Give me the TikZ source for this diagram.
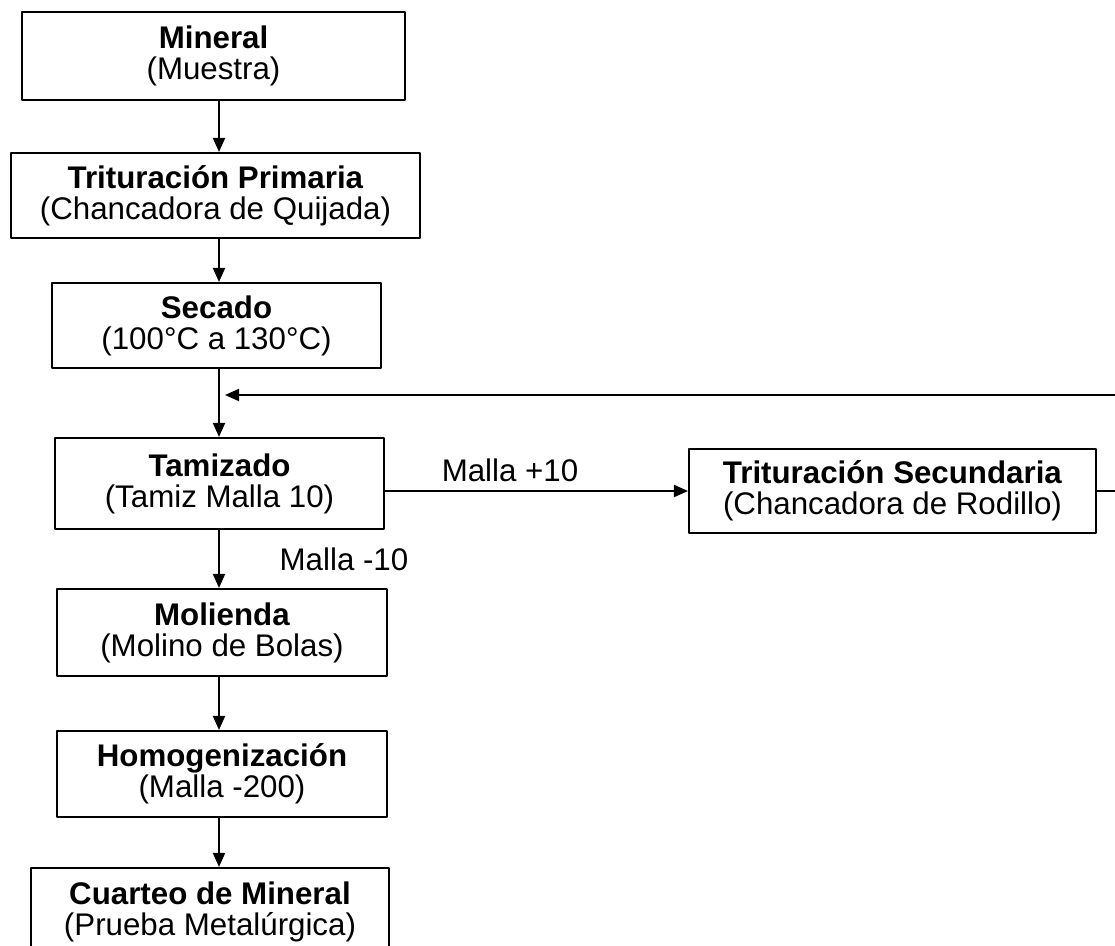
\documentclass[tikz,border=0pt]{standalone}
\usepackage{fontspec}
\setmainfont{Liberation Sans}
\usetikzlibrary{arrows.meta}

\begin{document}
\begin{tikzpicture}[x=0.02cm,y=-0.02cm,line join=round,
  caja/.style={draw,line width=1.2pt,align=center,inner sep=0pt,font=\fontsize{17.8}{17.6}\selectfont},
  flecha/.style={line width=1.1pt,-{Triangle[length=0.28cm,width=0.24cm]}},
  etiqueta/.style={font=\fontsize{17.8}{17.6}\selectfont}]
\useasboundingbox (0,0) rectangle (1115,946);
\clip (0,0) rectangle (1115,946);
\node[caja,minimum width=7.66cm,minimum height=1.76cm] (mineral) at (213.5,56) {\textbf{Mineral}\\(Muestra)};
\node[caja,minimum width=8.18cm,minimum height=1.70cm] (primaria) at (215.5,195.5) {\textbf{Trituración Primaria}\\(Chancadora de Quijada)};
\node[caja,minimum width=6.58cm,minimum height=1.70cm] (secado) at (216.5,325.5) {\textbf{Secado}\\(100°C a 130°C)};
\node[caja,minimum width=6.58cm,minimum height=1.82cm] (tamizado) at (219.5,483.5) {\textbf{Tamizado}\\(Tamiz Malla 10)};
\node[caja,minimum width=6.60cm,minimum height=1.74cm] (molienda) at (222,632.5) {\textbf{Molienda}\\(Molino de Bolas)};
\node[caja,minimum width=6.60cm,minimum height=1.72cm] (homog) at (222,774) {\textbf{Homogenización}\\(Malla -200)};
\node[caja,minimum width=7.16cm,minimum height=1.76cm] (cuarteo) at (210,912) {\textbf{Cuarteo de Mineral}\\(Prueba Metalúrgica)};
\node[caja,minimum width=8.14cm,minimum height=1.68cm] (secundaria) at (892.5,491) {\textbf{Trituración Secundaria}\\(Chancadora de Rodillo)};
\node[etiqueta] (mallamas) at (510,470) {Malla +10};
\node[etiqueta] (mallamenos) at (344,559) {Malla -10};
\coordinate (eje) at (219,0);
\coordinate (junta) at (225,395);
\coordinate (borde) at (1135,0);
\draw[flecha] (mineral.south -| eje) -- (primaria.north -| eje);
\draw[flecha] (primaria.south -| eje) -- (secado.north -| eje);
\draw[flecha] (secado.south -| eje) -- (tamizado.north -| eje);
\draw[flecha] (tamizado.south -| eje) -- (molienda.north -| eje);
\draw[flecha] (molienda.south -| eje) -- (homog.north -| eje);
\draw[flecha] (homog.south -| eje) -- (cuarteo.north -| eje);
\draw[flecha] (tamizado.east |- secundaria.west) -- (secundaria.west);
\draw[flecha] (secundaria.east) -- (secundaria.east -| borde) |- (junta);
\end{tikzpicture}
\end{document}
